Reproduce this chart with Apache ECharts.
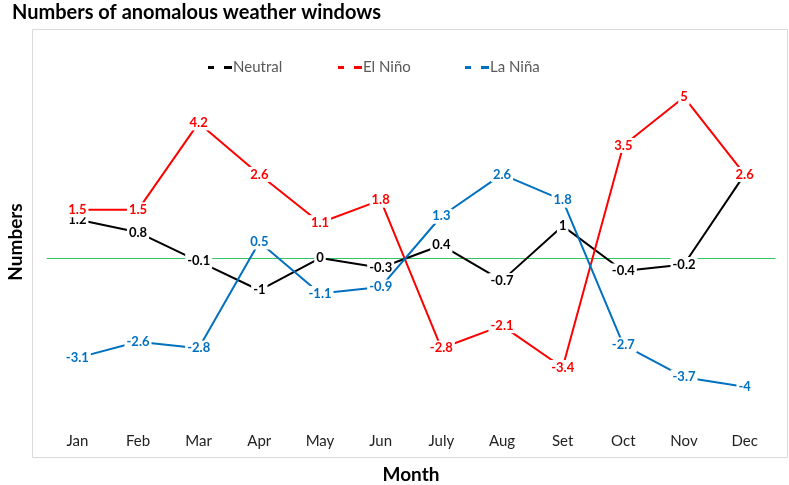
<!DOCTYPE html>
<html>
<head>
<meta charset="utf-8">
<script src="https://cdn.jsdelivr.net/npm/echarts@6/dist/echarts.min.js"></script>
<style>html,body{margin:0;padding:0;background:#fff}#c{width:789px;height:485px}</style>
</head>
<body>
<div id="c"></div>
<script>
const months = ['Jan','Feb','Mar','Apr','May','Jun','July','Aug','Set','Oct','Nov','Dec'];
const neutral = [1.2, 0.8, -0.1, -1, 0, -0.3, 0.4, -0.7, 1, -0.4, -0.2, 2.6];
const elNino  = [1.5, 1.5, 4.2, 2.6, 1.1, 1.8, -2.8, -2.1, -3.4, 3.5, 5, 2.6];
const laNina  = [-3.1, -2.6, -2.8, 0.5, -1.1, -0.9, 1.3, 2.6, 1.8, -2.7, -3.7, -4];
const seriesNames = ['Neutral', 'El Niño', 'La Niña'];
const seriesColors = ['#000000', '#FF0000', '#0070C0'];
const seriesData = [neutral, elNino, laNina];

const FONT = 'Lato';
const chart = echarts.init(document.getElementById('c'), null, {renderer: 'canvas'});
const legendLeft = [208, 338, 465];
const option = {
  backgroundColor: '#fff',
  animation: false,
  textStyle: {fontFamily: FONT},
  title: {
    text: 'Numbers of anomalous weather windows',
    left: 7, top: -2,
    textStyle: {fontFamily: FONT, fontWeight: 'bold', fontSize: 20, color: '#000'}
  },
  graphic: [{
    type: 'rect', silent: true, z: -1,
    shape: {x: 32.5, y: 29.5, width: 755, height: 428},
    style: {fill: 'none', stroke: '#d9d9d9', lineWidth: 1}
  }],
  legend: seriesNames.map((n, i) => ({
    data: [n],
    left: legendLeft[i], top: 60, padding: 0,
    icon: 'path://M0,0H6V3H0Z M16,0H24V3H16Z',
    itemWidth: 24, itemHeight: 3, itemGap: 2,
    textStyle: {fontFamily: FONT, fontSize: 15, color: '#595959', padding: [0,0,0,-4]}
  })),
  grid: {left: 47, right: 14, top: 65, bottom: 66, containLabel: false, outerBoundsMode: 'none'},
  xAxis: [{
    type: 'category', data: months, boundaryGap: true, position: 'bottom',
    axisLine: {show: false, onZero: false},
    axisTick: {show: false},
    axisLabel: {fontFamily: FONT, fontSize: 15, color: '#222', margin: 15},
    name: 'Month', nameLocation: 'middle', nameGap: 46,
    nameTextStyle: {fontFamily: FONT, fontWeight: 'bold', fontSize: 19, color: '#000'}
  }, {
    type: 'category', data: months, boundaryGap: true, position: 'top',
    axisLine: {show: true, onZero: true, lineStyle: {color: '#33C466', width: 1}},
    axisTick: {show: false}, axisLabel: {show: false}, splitLine: {show: false}
  }],
  yAxis: {
    type: 'value', min: -5, max: 6, interval: 1,
    axisLine: {show: false}, axisTick: {show: false},
    axisLabel: {show: false}, splitLine: {show: false},
    name: 'Numbers', nameLocation: 'middle', nameGap: 22, nameRotate: 90,
    nameTextStyle: {fontFamily: FONT, fontWeight: 'bold', fontSize: 19, color: '#000'}
  },
  series: seriesNames.map((n, i) => ({
    name: n, type: 'line', data: seriesData[i], xAxisIndex: 0,
    color: seriesColors[i],
    symbol: 'circle', symbolSize: 1,
    lineStyle: {width: 2, color: seriesColors[i]},
    label: {
      show: true, position: 'inside',
      fontFamily: FONT, fontWeight: 'bold', fontSize: 13,
      color: seriesColors[i], backgroundColor: '#fff', padding: [1, 2]
    },
    z: 2 + i
  }))
};
chart.setOption(option);
</script>
</body>
</html>
